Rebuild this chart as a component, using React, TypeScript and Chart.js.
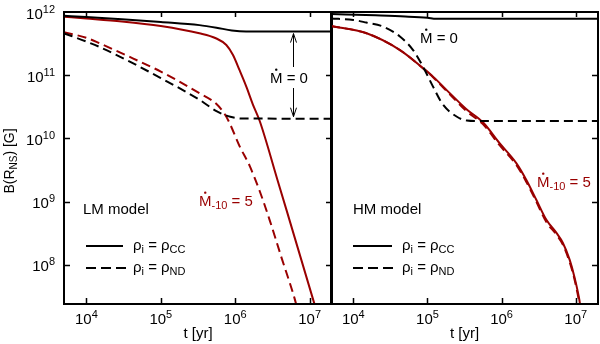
import React, { useEffect, useRef } from "react";
import { Chart, registerables } from "chart.js";

Chart.register(...registerables);

const FONT_FAMILY = "'Liberation Sans', Arial, Helvetica, sans-serif";
const RED = "#990000";
const BLACK = "#000000";

// Axis ranges and ticks (both panels)
const T_MIN = 5e3;
const T_MAX = 2e7;
const B_MIN = 2.4e7;
const B_MAX = 1e12;
const T_TICKS = [1e4, 1e5, 1e6, 1e7];
const T_TICK_EXPONENTS = ["4", "5", "6", "7"];
const B_TICKS = [1e8, 1e9, 1e10, 1e11, 1e12];
const B_TICK_EXPONENTS = ["8", "9", "10", "11", "12"];

// ---- LM model (left panel) ----
// rho_i = rho_CC, Mdot = 0 (black solid)
const LM_CC_M0_T = [5e3, 1e4, 3e4, 1e5, 3.3e5, 5.6e5, 9e5, 1.4e6, 2e7];
const LM_CC_M0_B = [8.7e11, 8.3e11, 7.7e11, 6.95e11, 6.2e11, 5.65e11, 5.1e11, 4.9e11, 4.9e11];
// rho_i = rho_CC, Mdot_-10 = 5 (red solid)
const LM_CC_M5_T = [5e3, 1e4, 3e4, 1e5, 3.3e5, 5.5e5, 7.6e5, 9.3e5, 1.14e6, 1.41e6, 1.72e6, 2.13e6, 3.7e6, 1.15e7, 1.3e7];
const LM_CC_M5_B = [8.4e11, 7.9e11, 7.1e11, 6.0e11, 4.6e11, 3.84e11, 3.0e11, 2.1e11, 1.21e11, 6.6e10, 3.5e10, 1.9e10, 2.2e9, 2.5e7, 1.5e7];
// rho_i = rho_ND, Mdot = 0 (black dashed)
const LM_ND_M0_T = [5e3, 1e4, 1.5e4, 4.2e4, 1e5, 3.3e5, 5.6e5, 8.6e5, 1.2e6, 2e7];
const LM_ND_M0_B = [4.6e11, 3.4e11, 2.8e11, 1.55e11, 9e10, 4.1e10, 2.7e10, 2.2e10, 2.07e10, 2.05e10];
// rho_i = rho_ND, Mdot_-10 = 5 (red dashed)
const LM_ND_M5_T = [5e3, 1e4, 1.5e4, 4.2e4, 1e5, 3.3e5, 5.6e5, 7.18e5, 8.38e5, 1.14e6, 1.56e6, 2.12e6, 2.89e6, 4.19e6, 6.25e6, 7.2e6];
const LM_ND_M5_B = [4.8e11, 3.9e11, 3.2e11, 1.85e11, 1.14e11, 5.2e10, 3.5e10, 2.45e10, 1.76e10, 7.6e9, 3.7e9, 1.5e9, 5.2e8, 1.3e8, 3.0e7, 1.6e7];

// ---- HM model (right panel) ----
const HM_CC_M0_T = [5e3, 2e4, 5e4, 1e5, 1.3e5, 2e7];
const HM_CC_M0_B = [9.3e11, 8.85e11, 8.5e11, 8.1e11, 7.8e11, 7.8e11];
const HM_CC_M5_T = [5e3, 1.51e4, 4.26e4, 8.75e4, 1.19e5, 2.0e5, 3.36e5, 5.6e5, 9.4e5, 1.58e6, 2.16e6, 2.94e6, 4.0e6, 5.5e6, 6.7e6, 8.3e6, 9.6e6, 1.12e7, 1.2e7];
const HM_CC_M5_B = [6.0e11, 4.6e11, 2.5e11, 1.29e11, 9.5e10, 5.2e10, 2.9e10, 1.8e10, 8.4e9, 4.07e9, 2.2e9, 1.07e9, 5.2e8, 3.2e8, 2.24e8, 1.2e8, 6.5e7, 2.8e7, 1.6e7];
const HM_ND_M0_T = [5e3, 1e4, 1.5e4, 2.5e4, 4.25e4, 6.4e4, 8.7e4, 1.19e5, 1.6e5, 2.5e5, 3.4e5, 5e5, 2e7];
const HM_ND_M0_B = [7.9e11, 7.5e11, 6.8e11, 5.9e11, 4.1e11, 2.5e11, 1.37e11, 6.6e10, 3.5e10, 2.2e10, 1.92e10, 1.88e10, 1.88e10];
const HM_ND_M5_T = [5e3, 1.51e4, 4.26e4, 8.75e4, 1.19e5, 2.0e5, 3.36e5, 5.6e5, 9.4e5, 1.58e6, 2.16e6, 2.94e6, 4.0e6, 5.5e6, 6.7e6, 8.3e6, 9.6e6, 1.12e7, 1.2e7];
const HM_ND_M5_B = [6.0e11, 4.6e11, 2.5e11, 1.28e11, 9.3e10, 5.0e10, 2.7e10, 1.68e10, 7.8e9, 3.8e9, 2.05e9, 1.0e9, 4.8e8, 3.0e8, 2.1e8, 1.1e8, 6.0e7, 2.5e7, 1.5e7];

type Part = { text: string; size: number; dy?: number; dot?: boolean };

const MAIN = 15;
const SMALL = 11;

function font(size: number) {
  return `${size}px ${FONT_FAMILY}`;
}

function partsWidth(ctx: CanvasRenderingContext2D, parts: Part[]) {
  let w = 0;
  for (const p of parts) {
    ctx.font = font(p.size);
    w += ctx.measureText(p.text).width;
  }
  return w;
}

function drawParts(
  ctx: CanvasRenderingContext2D,
  parts: Part[],
  x: number,
  y: number,
  align: "left" | "center" | "right",
  color: string
) {
  const total = partsWidth(ctx, parts);
  let cx = align === "left" ? x : align === "center" ? x - total / 2 : x - total;
  ctx.fillStyle = color;
  ctx.textAlign = "left";
  ctx.textBaseline = "alphabetic";
  for (const p of parts) {
    ctx.font = font(p.size);
    const w = ctx.measureText(p.text).width;
    const by = y + (p.dy || 0);
    ctx.fillText(p.text, cx, by);
    if (p.dot) {
      ctx.beginPath();
      ctx.arc(cx + w / 2, by - p.size * 0.716 - 2.6, 1.2, 0, Math.PI * 2);
      ctx.fill();
    }
    cx += w;
  }
}

function mdotZero(): Part[] {
  return [
    { text: "M", size: MAIN, dot: true },
    { text: " = 0", size: MAIN },
  ];
}
function mdotFive(): Part[] {
  return [
    { text: "M", size: MAIN, dot: true },
    { text: "-10", size: SMALL, dy: 3 },
    { text: " = 5", size: MAIN },
  ];
}
function rhoLabel(sub: string): Part[] {
  return [
    { text: "\u03c1", size: MAIN },
    { text: "i", size: SMALL, dy: 3 },
    { text: " = \u03c1", size: MAIN },
    { text: sub, size: SMALL, dy: 3 },
  ];
}

type Decor = {
  side: "left" | "right";
  model: string;
  modelPos: [number, number];
  m0Pos: [number, number];
  m5Pos: [number, number];
  legendX0: number;
  legendX1: number;
  legendTextX: number;
  arrowT?: number;
  arrowTop?: number;
  arrowBottom?: number;
};

const decorPlugin = {
  id: "panelDecor",
  afterDraw(chart: any, _args: any, opts: Decor) {
    const ctx: CanvasRenderingContext2D = chart.ctx;
    const area = chart.chartArea;
    const xs = chart.scales.x;
    const ys = chart.scales.y;
    ctx.save();

    // frame
    ctx.strokeStyle = BLACK;
    ctx.lineWidth = 2;
    ctx.setLineDash([]);
    ctx.strokeRect(area.left, area.top, area.right - area.left, area.bottom - area.top);

    // inward ticks
    ctx.lineWidth = 1.5;
    ctx.beginPath();
    for (const v of T_TICKS) {
      const px = Math.round(xs.getPixelForValue(v)) + 0.5;
      ctx.moveTo(px, area.bottom);
      ctx.lineTo(px, area.bottom - 6);
      ctx.moveTo(px, area.top);
      ctx.lineTo(px, area.top + 5);
    }
    for (const v of B_TICKS) {
      const py = Math.round(ys.getPixelForValue(v)) + 0.5;
      if (py <= area.top + 2) continue;
      if (opts.side === "left") {
        ctx.moveTo(area.left, py);
        ctx.lineTo(area.left + 6, py);
      }
      ctx.moveTo(area.right, py);
      ctx.lineTo(area.right - 6, py);
    }
    ctx.stroke();

    // x tick labels
    T_TICKS.forEach((v, i) => {
      const px = xs.getPixelForValue(v);
      drawParts(
        ctx,
        [
          { text: "10", size: MAIN },
          { text: T_TICK_EXPONENTS[i], size: SMALL, dy: -6 },
        ],
        px,
        area.bottom + 20,
        "center",
        BLACK
      );
    });

    // y tick labels (left panel only)
    if (opts.side === "left") {
      B_TICKS.forEach((v, i) => {
        const py = ys.getPixelForValue(v);
        drawParts(
          ctx,
          [
            { text: "10", size: MAIN },
            { text: B_TICK_EXPONENTS[i], size: SMALL, dy: -6 },
          ],
          area.left - 9,
          py + 6.5,
          "right",
          BLACK
        );
      });
      // y title
      ctx.save();
      ctx.translate(14, (area.top + area.bottom) / 2 + 3);
      ctx.rotate(-Math.PI / 2);
      drawParts(
        ctx,
        [
          { text: "B(R", size: 14 },
          { text: "NS", size: 10, dy: 3 },
          { text: ") [G]", size: 14 },
        ],
        0,
        0,
        "center",
        BLACK
      );
      ctx.restore();
    }

    // x title
    drawParts(ctx, [{ text: "t [yr]", size: MAIN }], (area.left + area.right) / 2, 338, "center", BLACK);

    // model label
    drawParts(ctx, [{ text: opts.model, size: MAIN }], opts.modelPos[0], opts.modelPos[1], "left", BLACK);
    // Mdot = 0
    drawParts(ctx, mdotZero(), opts.m0Pos[0], opts.m0Pos[1], "left", BLACK);
    // Mdot_-10 = 5
    drawParts(ctx, mdotFive(), opts.m5Pos[0], opts.m5Pos[1], "left", RED);

    // legend
    ctx.strokeStyle = BLACK;
    ctx.lineWidth = 2;
    ctx.setLineDash([]);
    ctx.beginPath();
    ctx.moveTo(opts.legendX0, 246);
    ctx.lineTo(opts.legendX1, 246);
    ctx.stroke();
    ctx.setLineDash([10, 5]);
    ctx.beginPath();
    ctx.moveTo(opts.legendX0, 268);
    ctx.lineTo(opts.legendX1 + 3, 268);
    ctx.stroke();
    ctx.setLineDash([]);
    drawParts(ctx, rhoLabel("CC"), opts.legendTextX, 250, "left", BLACK);
    drawParts(ctx, rhoLabel("ND"), opts.legendTextX, 272, "left", BLACK);

    // double arrow between Mdot=0 curves
    if (opts.arrowT) {
      const ax = Math.round(xs.getPixelForValue(opts.arrowT)) + 0.5;
      const y1 = ys.getPixelForValue(opts.arrowTop!) + 2;
      const y2 = ys.getPixelForValue(opts.arrowBottom!) - 2;
      ctx.lineWidth = 1;
      ctx.strokeStyle = BLACK;
      ctx.beginPath();
      ctx.moveTo(ax, y1);
      ctx.lineTo(ax, opts.m0Pos[1] - 16);
      ctx.moveTo(ax, opts.m0Pos[1] + 5);
      ctx.lineTo(ax, y2);
      // heads
      ctx.moveTo(ax - 3, y1 + 9);
      ctx.lineTo(ax, y1);
      ctx.lineTo(ax + 3, y1 + 9);
      ctx.moveTo(ax - 3, y2 - 9);
      ctx.lineTo(ax, y2);
      ctx.lineTo(ax + 3, y2 - 9);
      ctx.stroke();
    }
    ctx.restore();
  },
};

function pts(t: number[], b: number[]) {
  return t.map((x, i) => ({ x, y: b[i] }));
}

function ds(t: number[], b: number[], color: string, dashed: boolean) {
  return {
    data: pts(t, b),
    borderColor: color,
    backgroundColor: color,
    borderWidth: 2,
    borderDash: dashed ? [9, 5] : [],
    pointRadius: 0,
    fill: false,
    cubicInterpolationMode: "monotone" as const,
    clip: 0,
  };
}

function makeConfig(datasets: any[], padding: any, decor: Decor): any {
  return {
    type: "line",
    data: { datasets },
    options: {
      responsive: false,
      animation: false,
      events: [],
      layout: { padding },
      plugins: {
        legend: { display: false },
        tooltip: { enabled: false },
        title: { display: false },
        panelDecor: decor,
      },
      scales: {
        x: { type: "logarithmic", min: T_MIN, max: T_MAX, display: false },
        y: { type: "logarithmic", min: B_MIN, max: B_MAX, display: false },
      },
    },
    plugins: [decorPlugin],
  };
}

export default function App() {
  const leftRef = useRef<HTMLCanvasElement>(null);
  const rightRef = useRef<HTMLCanvasElement>(null);

  useEffect(() => {
    const left = new Chart(
      leftRef.current!,
      makeConfig(
        [
          ds(LM_CC_M0_T, LM_CC_M0_B, BLACK, false),
          ds(LM_ND_M0_T, LM_ND_M0_B, BLACK, true),
          ds(LM_ND_M5_T, LM_ND_M5_B, RED, true),
          ds(LM_CC_M5_T, LM_CC_M5_B, RED, false),
        ],
        { left: 64, right: 268, top: 12, bottom: 40 },
        {
          side: "left",
          model: "LM model",
          modelPos: [83, 214],
          m0Pos: [270, 83],
          m5Pos: [199, 206],
          legendX0: 86,
          legendX1: 123,
          legendTextX: 133,
          arrowT: 5.9e6,
          arrowTop: 4.9e11,
          arrowBottom: 2.05e10,
        }
      )
    );
    const right = new Chart(
      rightRef.current!,
      makeConfig(
        [
          ds(HM_CC_M0_T, HM_CC_M0_B, BLACK, false),
          ds(HM_ND_M0_T, HM_ND_M0_B, BLACK, true),
          ds(HM_ND_M5_T, HM_ND_M5_B, RED, true),
          ds(HM_CC_M5_T, HM_CC_M5_B, RED, false),
        ],
        { left: 331, right: 2, top: 12, bottom: 40 },
        {
          side: "right",
          model: "HM model",
          modelPos: [353, 214],
          m0Pos: [420, 43],
          m5Pos: [537, 187],
          legendX0: 353,
          legendX1: 392,
          legendTextX: 402,
        }
      )
    );
    return () => {
      left.destroy();
      right.destroy();
    };
  }, []);

  const canvasStyle: React.CSSProperties = { position: "absolute", left: 0, top: 0, width: 600, height: 344 };
  return (
    <div style={{ position: "absolute", left: 0, top: 0, width: 600, height: 344, background: "#fff" }}>
      <canvas ref={leftRef} width={600} height={344} style={canvasStyle} />
      <canvas ref={rightRef} width={600} height={344} style={canvasStyle} />
    </div>
  );
}
